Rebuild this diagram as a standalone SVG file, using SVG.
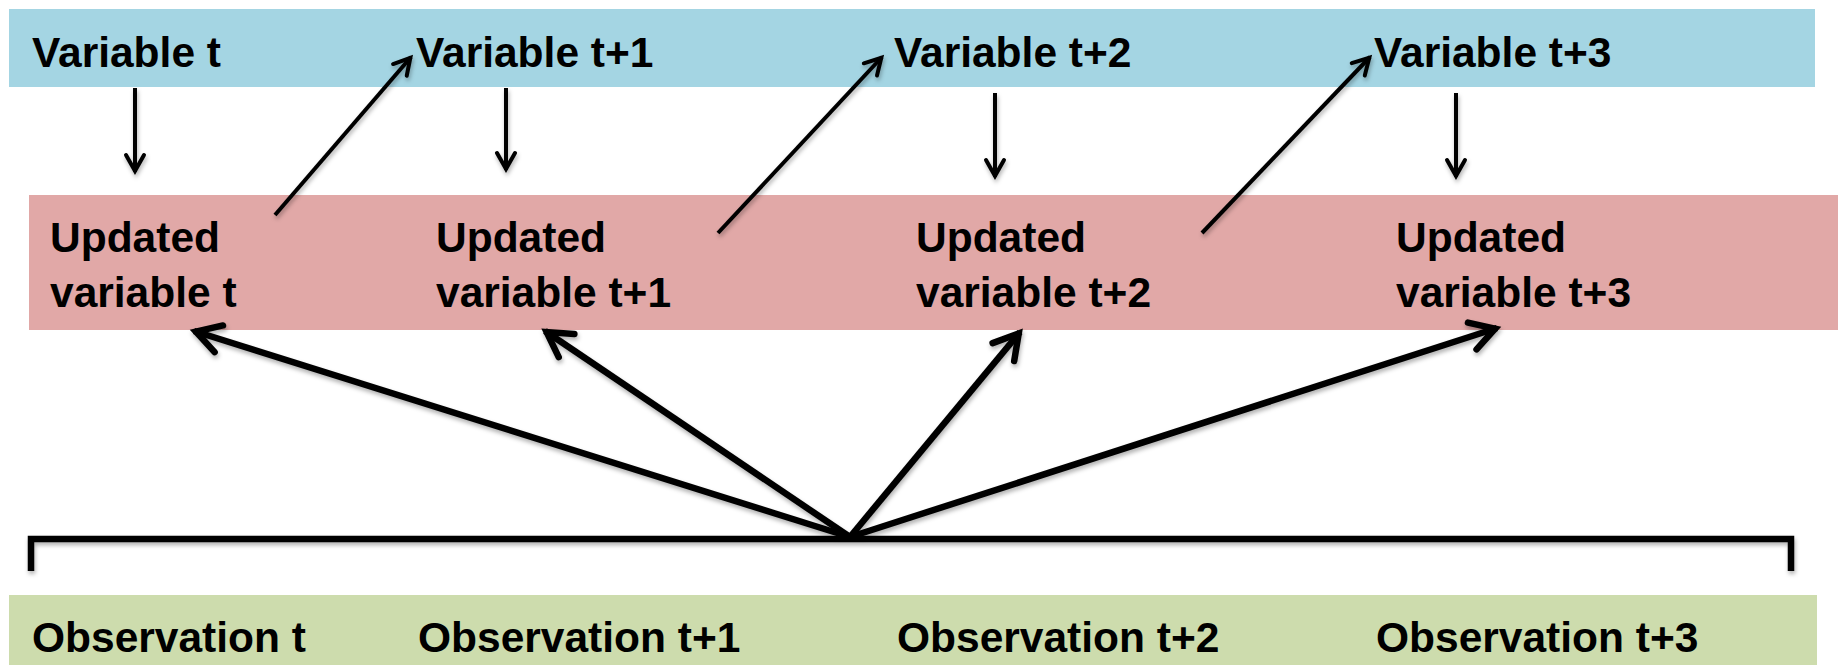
<svg xmlns="http://www.w3.org/2000/svg" width="1838" height="665" viewBox="0 0 1838 665">
<style>
.lbl{font-family:"Liberation Sans",Arial,sans-serif;font-weight:bold;font-size:42.5px;fill:#000}
.thin{stroke:#000;stroke-width:4;fill:none;marker-end:url(#hThin)}
.thick{stroke:#000;stroke-width:6.5;fill:none;marker-end:url(#hThick)}
</style>
<defs>
<filter id="sh" x="-5%" y="-5%" width="110%" height="110%">
<feDropShadow dx="1" dy="3" stdDeviation="2" flood-color="#000" flood-opacity="0.3"/>
</filter>
<marker id="hThin" markerUnits="userSpaceOnUse" markerWidth="40" markerHeight="40" viewBox="-30 -20 40 40" refX="0" refY="0" orient="auto" overflow="visible">
<path d="M-17,-9 L-1,0 L-17,9" fill="none" stroke="#000" stroke-width="4" stroke-linejoin="miter" stroke-linecap="round"/>
</marker>
<marker id="hThick" markerUnits="userSpaceOnUse" markerWidth="60" markerHeight="60" viewBox="-45 -30 60 60" refX="0" refY="0" orient="auto" overflow="visible">
<path d="M-26,-14 L-2,0 L-26,14" fill="none" stroke="#000" stroke-width="6.5" stroke-linejoin="miter" stroke-linecap="round"/>
</marker>
</defs>
<rect width="1838" height="665" fill="#ffffff"/>
<g id="variables">
<rect x="9" y="9" width="1806" height="78" fill="#A4D5E3"/>
<text class="lbl" x="32" y="67">Variable t</text>
<text class="lbl" x="416" y="67">Variable t+1</text>
<text class="lbl" x="894" y="67">Variable t+2</text>
<text class="lbl" x="1374" y="67">Variable t+3</text>
</g>
<g id="updated">
<rect x="29" y="195" width="1809" height="135" fill="#E1A8A7"/>
<text class="lbl" x="50" y="252">Updated</text>
<text class="lbl" x="50" y="307">variable t</text>
<text class="lbl" x="436" y="252">Updated</text>
<text class="lbl" x="436" y="307">variable t+1</text>
<text class="lbl" x="916" y="252">Updated</text>
<text class="lbl" x="916" y="307">variable t+2</text>
<text class="lbl" x="1396" y="252">Updated</text>
<text class="lbl" x="1396" y="307">variable t+3</text>
</g>
<g id="observations">
<rect x="9" y="595" width="1808" height="70" fill="#CDDCAD"/>
<text class="lbl" x="32" y="652">Observation t</text>
<text class="lbl" x="418" y="652">Observation t+1</text>
<text class="lbl" x="897" y="652">Observation t+2</text>
<text class="lbl" x="1376" y="652">Observation t+3</text>
</g>
<g id="connectors" filter="url(#sh)">
<line class="thin" x1="135" y1="88" x2="135" y2="172"/>
<line class="thin" x1="506" y1="88" x2="506" y2="170"/>
<line class="thin" x1="995" y1="93" x2="995" y2="177"/>
<line class="thin" x1="1456" y1="93" x2="1456" y2="177"/>
<line class="thin" x1="275" y1="215" x2="411" y2="57"/>
<line class="thin" x1="718" y1="233" x2="882" y2="57"/>
<line class="thin" x1="1202" y1="233" x2="1370" y2="57"/>
<path d="M31,571 L31,539 L1791,539 L1791,571" fill="none" stroke="#000" stroke-width="6.5"/>
<line class="thick" x1="850" y1="537" x2="194" y2="331"/>
<line class="thick" x1="850" y1="537" x2="545" y2="331"/>
<line class="thick" x1="850" y1="537" x2="1020" y2="332"/>
<line class="thick" x1="850" y1="537" x2="1497" y2="328"/>
</g>
</svg>
